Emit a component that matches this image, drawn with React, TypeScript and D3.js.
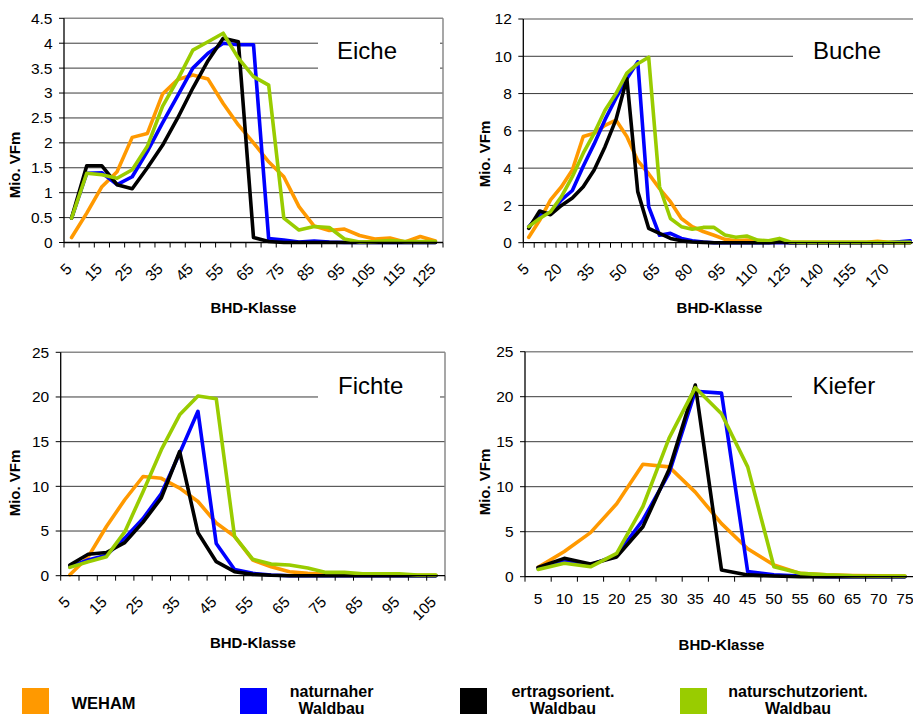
import React from "react";
import * as d3 from "d3";

// BHD classes per species
const eicheKlassen = ["5", "10", "15", "20", "25", "30", "35", "40", "45", "50", "55", "60", "65", "70", "75", "80", "85", "90", "95", "100", "105", "110", "115", "120", "125"];
const bucheKlassen = ["5", "10", "15", "20", "25", "30", "35", "40", "45", "50", "55", "60", "65", "70", "75", "80", "85", "90", "95", "100", "105", "110", "115", "120", "125", "130", "135", "140", "145", "150", "155", "160", "165", "170", "175", "180"];
const fichteKlassen = ["5", "10", "15", "20", "25", "30", "35", "40", "45", "50", "55", "60", "65", "70", "75", "80", "85", "90", "95", "100", "105"];
const kieferKlassen = ["5", "10", "15", "20", "25", "30", "35", "40", "45", "50", "55", "60", "65", "70", "75"];

// Mio. VFm, order: WEHAM, naturnaher, ertragsorient., naturschutzorient.
const eicheWeham = [0.1, 0.59, 1.12, 1.42, 2.11, 2.19, 2.98, 3.27, 3.36, 3.28, 2.79, 2.36, 2.0, 1.62, 1.32, 0.72, 0.33, 0.24, 0.27, 0.14, 0.07, 0.09, 0.01, 0.12, 0.03];
const eicheNaturnah = [0.49, 1.39, 1.4, 1.16, 1.32, 1.83, 2.4, 2.95, 3.5, 3.8, 4.0, 3.97, 3.97, 0.08, 0.05, 0.01, 0.03, 0.01, 0, 0, 0, 0, 0, 0, 0];
const eicheErtrag = [0.49, 1.54, 1.54, 1.16, 1.08, 1.5, 1.95, 2.5, 3.1, 3.65, 4.1, 4.03, 0.1, 0.02, 0, 0, 0, 0, 0, 0, 0, 0, 0, 0, 0];
const eicheNaturschutz = [0.49, 1.39, 1.36, 1.29, 1.46, 1.93, 2.73, 3.27, 3.86, 4.03, 4.2, 3.7, 3.33, 3.16, 0.49, 0.25, 0.32, 0.3, 0.07, 0.01, 0.02, 0.04, 0.02, 0.02, 0.02];

const bucheWeham = [0.29, 1.2, 2.3, 3.0, 3.9, 5.7, 5.87, 6.3, 6.58, 5.7, 4.4, 3.7, 2.9, 2.2, 1.3, 0.86, 0.6, 0.4, 0.18, 0.1, 0.14, 0.05, 0.02, 0.01, 0.02, 0.02, 0.02, 0.02, 0.02, 0.02, 0.02, 0.02, 0.08, 0.02, 0.02, 0.02];
const bucheNaturnah = [0.86, 1.5, 1.6, 2.3, 2.8, 4.1, 5.3, 6.6, 7.75, 8.8, 9.7, 1.93, 0.4, 0.5, 0.23, 0.1, 0.04, 0, 0, 0, 0, 0, 0, 0, 0, 0, 0, 0, 0, 0, 0, 0, 0, 0, 0.05, 0.1];
const bucheErtrag = [0.77, 1.7, 1.5, 2.0, 2.4, 3.0, 3.9, 5.15, 6.6, 8.8, 2.74, 0.77, 0.5, 0.23, 0.1, 0.04, 0.02, 0, 0, 0, 0, 0, 0, 0.05, 0, 0, 0, 0, 0, 0, 0, 0, 0, 0, 0, 0];
const bucheNaturschutz = [0.86, 1.3, 1.66, 2.47, 3.54, 4.8, 5.87, 7.1, 8.0, 9.1, 9.6, 9.95, 3.0, 1.3, 0.86, 0.72, 0.82, 0.82, 0.41, 0.29, 0.36, 0.14, 0.1, 0.23, 0.04, 0.02, 0.02, 0.02, 0.02, 0.02, 0.02, 0.02, 0.02, 0.02, 0.02, 0.02];

const fichteWeham = [0.1, 2.1, 5.5, 8.5, 11.1, 10.9, 9.8, 8.3, 5.9, 4.4, 1.75, 1.0, 0.45, 0.26, 0.15, 0.1, 0.1, 0.08, 0.06, 0.05, 0.05];
const fichteNaturnah = [1.0, 1.75, 2.3, 4.2, 6.4, 9.2, 13.7, 18.4, 3.6, 0.7, 0.26, 0.07, 0, 0, 0, 0, 0, 0, 0, 0, 0];
const fichteErtrag = [1.2, 2.4, 2.6, 3.7, 6.0, 8.7, 13.9, 4.8, 1.57, 0.45, 0.15, 0.05, 0, 0, 0, 0, 0, 0, 0, 0, 0];
const fichteNaturschutz = [0.93, 1.57, 2.13, 4.9, 9.4, 14.1, 18.0, 20.1, 19.8, 4.4, 1.83, 1.3, 1.2, 0.86, 0.37, 0.37, 0.22, 0.22, 0.22, 0.07, 0.07];

const kieferWeham = [1.04, 2.8, 4.9, 8.1, 12.5, 12.2, 9.4, 5.9, 3.1, 1.3, 0.37, 0.2, 0.12, 0.1, 0.08];
const kieferNaturnah = [0.93, 1.85, 1.3, 2.4, 6.3, 11.5, 20.6, 20.4, 0.56, 0.2, 0.07, 0, 0, 0, 0];
const kieferErtrag = [1.04, 2.04, 1.4, 2.2, 5.55, 11.9, 21.3, 0.74, 0.2, 0.07, 0, 0, 0, 0, 0];
const kieferNaturschutz = [0.81, 1.5, 1.1, 2.6, 7.8, 15.4, 21.0, 18.1, 12.2, 1.1, 0.37, 0.2, 0.1, 0.07, 0.07];

const eicheTicks = [0, 0.5, 1, 1.5, 2, 2.5, 3, 3.5, 4, 4.5];
const bucheTicks = [0, 2, 4, 6, 8, 10, 12];
const fichteTicks = [0, 5, 10, 15, 20, 25];
const kieferTicks = [0, 5, 10, 15, 20, 25];

const seriesColors = ["#FF9900", "#0000FF", "#000000", "#99CC00"];
const legendLabels = [["WEHAM"], ["naturnaher", "Waldbau"], ["ertragsorient.", "Waldbau"], ["naturschutzorient.", "Waldbau"]];

const FONT = "'Liberation Sans', Arial, Helvetica, sans-serif";

const panels = [
  {
    name: "Eiche", classes: eicheKlassen, ticks: eicheTicks,
    series: [eicheWeham, eicheNaturnah, eicheErtrag, eicheNaturschutz],
    left: 64, right: 443, top: 18.3, bottom: 242.5, labelEvery: 2, rotated: true,
    box: [318, 440, 28, 80], nameX: 337, nameY: 58.5, yTitle: [15, 165], xTitleY: 313,
  },
  {
    name: "Buche", classes: bucheKlassen, ticks: bucheTicks,
    series: [bucheWeham, bucheNaturnah, bucheErtrag, bucheNaturschutz],
    left: 523.3, right: 915.7, top: 19, bottom: 242.7, labelEvery: 3, rotated: true,
    box: [793, 913, 30, 75], nameX: 813, nameY: 58.5, yTitle: [485, 154], xTitleY: 313,
  },
  {
    name: "Fichte", classes: fichteKlassen, ticks: fichteTicks,
    series: [fichteWeham, fichteNaturnah, fichteErtrag, fichteNaturschutz],
    left: 60.7, right: 445, top: 352.3, bottom: 575.7, labelEvery: 2, rotated: true,
    box: [318, 440, 365, 420], nameX: 338, nameY: 394, yTitle: [15, 483], xTitleY: 648,
  },
  {
    name: "Kiefer", classes: kieferKlassen, ticks: kieferTicks,
    series: [kieferWeham, kieferNaturnah, kieferErtrag, kieferNaturschutz],
    left: 525, right: 918, top: 351.7, bottom: 576.7, labelEvery: 1, rotated: false,
    box: [792, 913, 365, 420], nameX: 812.5, nameY: 394, yTitle: [485, 482], xTitleY: 650,
  },
];

const Panel = ({ p }: { p: any }) => {
  const x = d3.scaleBand<string>().domain(p.classes).range([p.left, p.right]).padding(0);
  const yMax = p.ticks[p.ticks.length - 1];
  const y = d3.scaleLinear().domain([0, yMax]).range([p.bottom, p.top]);
  const cx = (c: string) => (x(c) as number) + x.bandwidth() / 2;

  const line = d3
    .line<number>()
    .x((_, i) => cx(p.classes[i]))
    .y((d) => y(d));

  const boundaries = p.classes.map((c: string) => x(c) as number).concat([p.right]);

  return (
    <g>
      {/* gridlines */}
      {p.ticks
        .filter((t: number) => t !== 0 && t !== yMax)
        .map((t: number) => (
          <line key={t} x1={p.left} x2={p.right} y1={y(t)} y2={y(t)} stroke="#3a3a3a" strokeWidth={1} />
        ))}
      <line x1={p.left} x2={p.right} y1={y(yMax)} y2={y(yMax)} stroke="#8a8a8a" strokeWidth={1.5} />
      <line x1={p.right} x2={p.right} y1={p.top} y2={p.bottom} stroke="#8a8a8a" strokeWidth={1.5} />

      {/* species label box */}
      <rect x={p.box[0]} y={p.box[2]} width={p.box[1] - p.box[0]} height={p.box[3] - p.box[2]} fill="#fff" />
      <text x={p.nameX} y={p.nameY} fontFamily={FONT} fontSize={24} fill="#000">
        {p.name}
      </text>

      {/* series */}
      {p.series.map((s: number[], i: number) => (
        <path
          key={i}
          d={line(s) as string}
          fill="none"
          stroke={seriesColors[i]}
          strokeWidth={3.6}
          strokeLinejoin="round"
          strokeLinecap="round"
        />
      ))}

      {/* y axis */}
      <line x1={p.left} x2={p.left} y1={p.top} y2={p.bottom} stroke="#000" strokeWidth={1.3} />
      {p.ticks.map((t: number) => (
        <g key={t}>
          <line x1={p.left - 5} x2={p.left} y1={y(t)} y2={y(t)} stroke="#000" strokeWidth={1} />
          <text x={p.left - 11.5} y={y(t)} dy="0.35em" textAnchor="end" fontFamily={FONT} fontSize={15.5} fill="#000">
            {String(+t.toFixed(1))}
          </text>
        </g>
      ))}

      {/* x axis */}
      <line x1={p.left} x2={p.right} y1={p.bottom} y2={p.bottom} stroke="#000" strokeWidth={1.3} />
      {boundaries.map((b: number, i: number) => (
        <line key={i} x1={b} x2={b} y1={p.bottom} y2={p.bottom + 5} stroke="#000" strokeWidth={1} />
      ))}
      {p.classes.map((c: string, i: number) =>
        i % p.labelEvery !== 0 ? null : p.rotated ? (
          <text
            key={c}
            transform={`translate(${cx(c) - 6.5},${p.bottom + 19.5}) rotate(-45)`}
            dy="0.71em"
            textAnchor="end"
            fontFamily={FONT}
            fontSize={15.5}
            fill="#000"
          >
            {c}
          </text>
        ) : (
          <text key={c} x={cx(c)} y={p.bottom + 27} textAnchor="middle" fontFamily={FONT} fontSize={15.5} fill="#000">
            {c}
          </text>
        )
      )}

      {/* axis titles */}
      <text
        x={(p.left + p.right) / 2}
        y={p.xTitleY}
        textAnchor="middle"
        fontFamily={FONT}
        fontWeight="bold"
        fontSize={15}
        fill="#000"
      >
        BHD-Klasse
      </text>
      <text
        transform={`translate(${p.yTitle[0]},${p.yTitle[1]}) rotate(-90)`}
        dy="0.35em"
        textAnchor="middle"
        fontFamily={FONT}
        fontWeight="bold"
        fontSize={15}
        fill="#000"
      >
        Mio. VFm
      </text>
    </g>
  );
};

const legendSwatchX = [22, 240, 460, 680];
const legendTextX = [103.5, 331.6, 563, 798];

const App = () => {
  return (
    <svg
      width={913}
      height={718}
      style={{ position: "absolute", left: 0, top: 0, background: "#fff" }}
    >
      {panels.map((p) => (
        <Panel key={p.name} p={p} />
      ))}
      {legendLabels.map((lines, i) => (
        <g key={i}>
          <rect x={legendSwatchX[i]} y={688} width={27} height={26} fill={seriesColors[i]} />
          {lines.length === 1 ? (
            <text x={legendTextX[i]} y={709} textAnchor="middle" fontFamily={FONT} fontWeight="bold" fontSize={16.5} fill="#000">
              {lines[0]}
            </text>
          ) : (
            lines.map((l, j) => (
              <text
                key={j}
                x={legendTextX[i]}
                y={697 + j * 17}
                textAnchor="middle"
                fontFamily={FONT}
                fontWeight="bold"
                fontSize={16}
                fill="#000"
              >
                {l}
              </text>
            ))
          )}
        </g>
      ))}
    </svg>
  );
};

export default App;
